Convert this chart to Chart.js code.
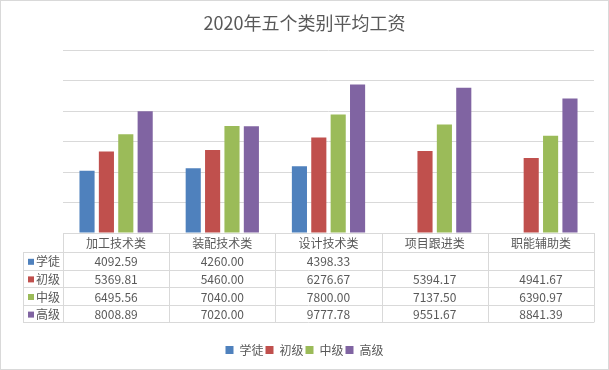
<!DOCTYPE html>
<html>
<head>
<meta charset="utf-8">
<script src="https://cdn.jsdelivr.net/npm/chart.js@4/dist/chart.umd.min.js"></script>
<style>
  html, body { margin: 0; padding: 0; background: #fff; }
  #wrap { width: 609px; height: 370px; }
</style>
</head>
<body>
<div id="wrap"><canvas id="salary-chart" width="609" height="370"></canvas></div>
<script>
// chart data
const categories = ['加工技术类', '装配技术类', '设计技术类', '项目跟进类', '职能辅助类'];
const seriesNames = ['学徒', '初级', '中级', '高级'];
const apprentice = [4092.59, 4260.00, 4398.33, null, null];
const junior = [5369.81, 5460.00, 6276.67, 5394.17, 4941.67];
const middle = [6495.56, 7040.00, 7800.00, 7137.50, 6390.97];
const senior = [8008.89, 7020.00, 9777.78, 9551.67, 8841.39];
const yTicks = [0, 2000, 4000, 6000, 8000, 10000, 12000];

const colors = ['#4F81BD', '#C0504D', '#9BBB59', '#8064A2'];
const textColor = '#595959';
const lineColor = '#D9D9D9';
const font = '"Noto Sans CJK SC", "Noto Sans", sans-serif';

const seriesData = [apprentice, junior, middle, senior];

// draws the data table under the bars plus the outer border
const dataTable = {
    id: 'dataTable',
    afterDraw(chart) {
        const ctx = chart.ctx;
        const area = chart.chartArea;
        const x = chart.scales.x;
        const colW = (area.right - area.left) / categories.length;
        const headH = 19;
        const rowH = 17.6;
        const top = area.bottom;
        const labelLeft = area.left - 40;
        const bottom = top + headH + rowH * seriesNames.length;

        ctx.save();
        ctx.strokeStyle = lineColor;
        ctx.lineWidth = 1;

        // vertical lines
        ctx.beginPath();
        for (let i = 0; i <= categories.length; i++) {
            const lx = Math.round(area.left + colW * i) + 0.5;
            ctx.moveTo(lx, top);
            ctx.lineTo(lx, bottom);
        }
        ctx.moveTo(labelLeft + 0.5, top + headH);
        ctx.lineTo(labelLeft + 0.5, bottom);
        // horizontal lines
        for (let r = 0; r <= seriesNames.length; r++) {
            const ly = Math.round(top + headH + rowH * r) + 0.5;
            ctx.moveTo(labelLeft, ly);
            ctx.lineTo(area.right, ly);
        }
        ctx.stroke();

        ctx.fillStyle = textColor;
        ctx.textAlign = 'center';
        ctx.textBaseline = 'middle';
        ctx.font = '12px ' + font;
        categories.forEach((c, i) => {
            ctx.fillText(c, x.getPixelForValue(i), top + headH / 2 + 1);
        });

        seriesNames.forEach((name, r) => {
            const cy = top + headH + rowH * r + rowH / 2 + 1;
            ctx.fillStyle = colors[r];
            ctx.fillRect(labelLeft + 5, cy - 3, 6, 6);
            ctx.fillStyle = textColor;
            ctx.textAlign = 'left';
            ctx.fillText(name, labelLeft + 13, cy);
            ctx.textAlign = 'center';
            seriesData[r].forEach((v, i) => {
                if (v !== null) {
                    ctx.fillText(v.toFixed(2), x.getPixelForValue(i), cy);
                }
            });
        });

        // chart border
        ctx.strokeStyle = lineColor;
        ctx.strokeRect(0.5, 0.5, chart.width - 1, chart.height - 1);
        ctx.restore();
    }
};

const ctx = document.getElementById('salary-chart').getContext('2d');
new Chart(ctx, {
    type: 'bar',
    data: {
        labels: categories,
        datasets: seriesNames.map((name, i) => ({
            label: name,
            data: seriesData[i],
            backgroundColor: colors[i],
            categoryPercentage: 0.73,
            barPercentage: 0.78
        }))
    },
    options: {
        responsive: false,
        animation: false,
        layout: { padding: { left: 0, right: 0, top: 0, bottom: 4 } },
        scales: {
            x: {
                grid: { display: false },
                border: { display: false },
                ticks: { display: false },
                afterFit(scale) { scale.height = 109; }
            },
            y: {
                min: yTicks[0],
                max: yTicks[yTicks.length - 1],
                afterBuildTicks(scale) { scale.ticks = yTicks.map(v => ({ value: v })); },
                ticks: { display: false },
                grid: { color: lineColor, drawTicks: false, lineWidth: 1 },
                border: { display: false },
                afterFit(scale) { scale.width = 63; }
            },
            // empty right-hand spacer so the plot ends where the reference does
            yRight: {
                position: 'right',
                min: yTicks[0],
                max: yTicks[yTicks.length - 1],
                ticks: { display: false },
                grid: { display: false },
                border: { display: false },
                afterFit(scale) { scale.width = 15; }
            }
        },
        plugins: {
            title: {
                display: true,
                text: '2020年五个类别平均工资',
                color: textColor,
                font: { size: 18, family: font, weight: 'normal' },
                padding: { top: 12, bottom: 17 }
            },
            legend: {
                position: 'bottom',
                labels: {
                    boxWidth: 8,
                    boxHeight: 8,
                    padding: 2,
                    color: textColor,
                    font: { size: 12, family: font }
                }
            },
            tooltip: { enabled: false }
        }
    },
    plugins: [dataTable]
});
</script>
</body>
</html>
